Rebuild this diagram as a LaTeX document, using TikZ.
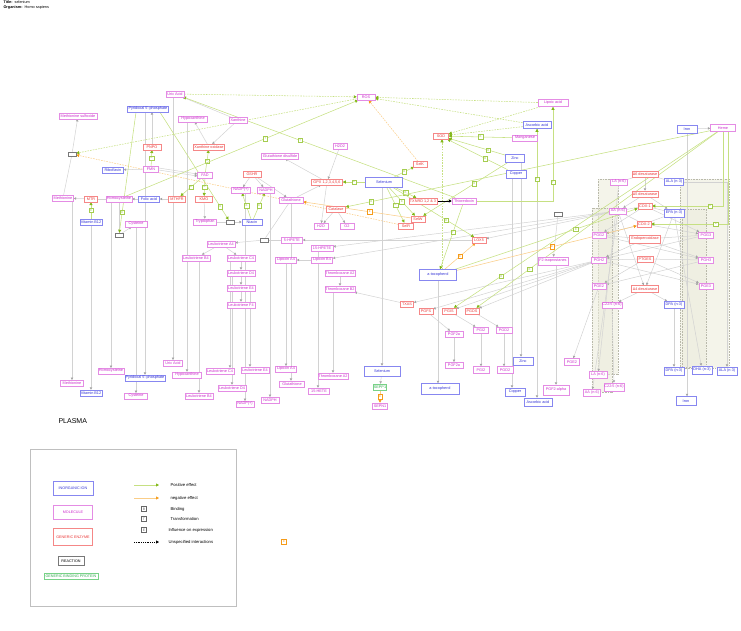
\documentclass[tikz,border=0pt]{standalone}
\usepackage{fontspec}
\setmainfont{Liberation Sans}
\usetikzlibrary{arrows.meta}

\definecolor{molline}{RGB}{228,140,228}
\definecolor{moltext}{RGB}{205,45,205}
\definecolor{ionline}{RGB}{135,135,240}
\definecolor{iontext}{RGB}{50,50,215}
\definecolor{enzline}{RGB}{245,135,135}
\definecolor{enztext}{RGB}{235,55,55}
\definecolor{rxnline}{RGB}{120,120,120}
\definecolor{gbpline}{RGB}{120,210,135}
\definecolor{gbptext}{RGB}{50,170,80}
\definecolor{cvline}{RGB}{210,210,210}
\definecolor{cvtip}{RGB}{165,165,165}
\definecolor{pline}{RGB}{198,224,130}
\definecolor{ptip}{RGB}{128,182,20}
\definecolor{pbox}{RGB}{165,205,80}
\definecolor{nline}{RGB}{250,205,135}
\definecolor{ntip}{RGB}{245,155,25}
\definecolor{grpfill}{RGB}{236,236,220}
\definecolor{grpline}{RGB}{185,185,170}

\pgfdeclarelayer{background}
\pgfsetlayers{background,main}

\begin{document}
\begin{tikzpicture}[x=1pt,y=-1pt,
    font=\fontsize{3.8}{4.4}\selectfont,
    box/.style={draw, fill=white, line width=0.5pt, inner sep=0.4pt, minimum height=5.5pt},
    mol/.style={box, draw=molline, text=moltext},
    ion/.style={box, draw=ionline, text=iontext},
    enz/.style={box, draw=enzline, text=enztext},
    gbp/.style={box, draw=gbpline, text=gbptext},
    rxn/.style={draw=rxnline, fill=white, line width=0.5pt, minimum width=8pt, minimum height=4pt, inner sep=0pt},
    mw/.style={minimum width=#1pt},
    mh/.style={minimum height=#1pt},
    link/.style={draw=cvline, line width=0.5pt},
    convert/.style={link, -{Triangle[length=2.4pt,width=2.4pt,color=cvtip]}},
    plusfx/.style={draw=pline, line width=0.55pt, -{Triangle[length=3pt,width=3pt,color=ptip]}},
    plusdash/.style={plusfx, dash pattern=on 1.6pt off 1.1pt},
    minusfx/.style={draw=nline, line width=0.55pt, -{Triangle[length=3pt,width=3pt,color=ntip]}},
    minusdash/.style={minusfx, dash pattern=on 1.6pt off 1.1pt},
    blackfx/.style={draw=black, line width=0.5pt, -{Triangle[length=3pt,width=3pt]}},
    fxbox/.style={draw=#1, text=#1, fill=white, solid, line width=0.4pt, inner sep=0pt,
                  minimum size=4.6pt, font=\fontsize{2.8}{3}\selectfont},
    group/.style={draw=grpline, fill=grpfill, fill opacity=0.6, dash pattern=on 1pt off 0.6pt, line width=0.5pt}]

\useasboundingbox (0,0) rectangle (741,630);

% title
\node[anchor=west] (ttl) at (0,2.6) {\textbf{Title:}\ \ selenium};
\node[anchor=west] (org) at (0,7.6) {\textbf{Organism:}\ \ Homo sapiens};

% ---- cell : molecules
\node[mol,mw=18] (uricA) at (175,94) {Uric Acid};
\node[mol,mw=38] (metsulf) at (78,116) {Methionine sulfoxide};
\node[mol,mw=29] (hypox) at (193,119) {Hypoxanthine};
\node[mol,mw=18] (xanth) at (238,120) {Xanthine};
\node[mol,mw=15] (fmn) at (151,169) {FMN};
\node[mol,mw=15] (fad) at (205,175) {FAD};
\node[mol,mw=21] (meth) at (63,198) {Methionine};
\node[mol,mw=26] (homocys) at (119,199) {Homocysteine};
\node[mol,mw=22] (cys) at (136,224) {Cysteine};
\node[mol,mw=23,mh=6] (trp) at (205,222) {Tryptophan};
\node[mol,mw=37] (gssg) at (280,156) {Glutathione disulfide};
\node[mol,mw=14] (h2o2) at (340,146) {H2O2};
\node[mol,mw=19] (nadp) at (241,190) {NADP(+)};
\node[mol,mw=17] (nadph) at (266,190) {NADPH};
\node[mol,mw=24] (gsh) at (291,200) {Glutathione};
\node[mol,mw=14] (h2o) at (321,226) {H2O};
\node[mol,mw=14] (o2) at (347,226) {O2};
\node[mol,mw=18,mh=6] (ros) at (366,97) {ROS};
\node[mol,mw=24,mh=6] (thiored) at (464,201) {Thioredoxin};
\node[mol,mw=30,mh=7] (lipoic) at (553,103) {Lipoic acid};
\node[mol,mw=25] (mangan) at (525,138) {Manganese};
\node[mol,mw=30,mh=8] (isopro) at (553,261) {F2-isoprostanes};
\node[mol,mw=28,mh=6] (lta4) at (221,244) {Leukotriene A4};
\node[mol,mw=28,mh=6] (ltb4) at (196,258) {Leukotriene B4};
\node[mol,mw=28,mh=6] (ltc4) at (241,258) {Leukotriene C4};
\node[mol,mw=28,mh=6] (ltd4) at (241,273) {Leukotriene D4};
\node[mol,mw=28,mh=6] (lte4) at (241,288) {Leukotriene E4};
\node[mol,mw=28,mh=6] (ltf4) at (241,305) {Leukotriene F4};
\node[mol,mw=21] (hpete5) at (292,240) {5-HPETE};
\node[mol,mw=22] (hpete15) at (322,248) {15-HPETE};
\node[mol,mw=21] (lxa4) at (286,260) {Lipoxin A4};
\node[mol,mw=21] (lxb4) at (322,260) {Lipoxin B4};
\node[mol,mw=30] (txa2) at (340,273) {Thromboxane A2};
\node[mol,mw=30,mh=6] (txb2) at (340,289) {Thromboxane B2};
\node[mol,mw=18,mh=6] (pgf2a) at (454,334) {PGF2a};
\node[mol,mw=15,mh=6] (pgi2) at (481,330) {PGI2};
\node[mol,mw=16,mh=6] (pgd2) at (504,330) {PGD2};
\node[mol,mw=17,mh=6] (la) at (619,182) {LA (n-6)};
\node[mol,mw=17,mh=6] (aa) at (618,211) {AA (n-6)};
\node[mol,mw=14,mh=6] (pgg2) at (599,235) {PGG2};
\node[mol,mw=15,mh=6] (pgg3) at (706,235) {PGG3};
\node[mol,mw=15,mh=6] (pgh2) at (599,260) {PGH2};
\node[mol,mw=15,mh=6] (pgh3) at (706,260) {PGH3};
\node[mol,mw=14,mh=6] (pge2) at (599,286) {PGE2};
\node[mol,mw=14,mh=6] (pge3) at (706,286) {PGE3};
\node[mol,mw=20,mh=6] (c225) at (612,305) {C22:5 (n-6)};
\node[mol,mw=25,mh=7] (heme) at (723,128) {Heme};

% ---- cell : inorganic ions
\node[ion,mw=41,mh=6] (plp) at (148,109) {Pyridoxal 5'-phosphate};
\node[ion,mw=21,mh=6] (ribo) at (113,170) {Riboflavin};
\node[ion,mw=21,mh=6] (folic) at (149,199) {Folic acid};
\node[ion,mw=22,mh=6] (b12) at (91,222) {Vitamin B12};
\node[ion,mw=20,mh=6] (niacin) at (252,222) {Niacin};
\node[ion,mw=37,mh=10] (selen) at (384,182) {Selenium};
\node[ion,mw=28,mh=7] (ascorb) at (537,125) {Ascorbic acid};
\node[ion,mw=19,mh=8] (zinc) at (515,158) {Zinc};
\node[ion,mw=20,mh=8] (copper) at (516,174) {Copper};
\node[ion,mw=37,mh=11] (atoc) at (438,275) {a-tocopherol};
\node[ion,mw=20,mh=8] (iron) at (687,129) {Iron};
\node[ion,mw=19,mh=7] (ala) at (674,182) {ALA (n-3)};
\node[ion,mw=20,mh=8] (epa) at (674,213) {EPA (n-3)};
\node[ion,mw=20,mh=7] (dpa) at (674,305) {DPA (n-3)};

% ---- cell : enzymes
\node[enz,mw=18] (pnpo) at (152,147) {PNPO};
\node[enz,mw=31] (xo) at (209,147) {Xanthine oxidase};
\node[enz,mw=13] (mtr) at (91,199) {MTR};
\node[enz,mw=17] (mthfr) at (177,199) {MTHFR};
\node[enz,mw=17] (kmo) at (204,199) {KMO};
\node[enz,mw=18] (gsr) at (252,174) {GSHR};
\node[enz,mw=31] (gpx) at (327,182) {GPX 1,2,3,4,5,6};
\node[enz,mw=19,mh=6] (catal) at (336,209) {Catalase};
\node[enz,mw=14] (selk) at (420,164) {SelK};
\node[enz,mw=28,mh=6] (txnrd) at (423,201) {TXNRD 1,2 \& 3};
\node[enz,mw=14,mh=6] (selw) at (418,219) {SelW};
\node[enz,mw=15,mh=6] (selr) at (406,226) {SelR};
\node[enz,mw=15,mh=6] (sod) at (441,136) {SOD};
\node[enz,mw=14] (lox5) at (479,240) {LOX5};
\node[enz,mw=13,mh=6] (txas) at (407,304) {TXAS};
\node[enz,mw=14,mh=6] (pgfs) at (426,311) {PGFS};
\node[enz,mw=14,mh=6] (pgis) at (449,311) {PGIS};
\node[enz,mw=14,mh=6] (pgds) at (472,311) {PGDS};
\node[enz,mw=26,mh=6] (d6des) at (645,174) {Δ6 desaturase};
\node[enz,mw=26,mh=6] (d5des) at (645,194) {Δ5 desaturase};
\node[enz,mw=14,mh=6] (cox1) at (645,206) {COX-1};
\node[enz,mw=14,mh=6] (cox2) at (644,224) {COX-2};
\node[enz,mw=31,mh=8] (endop) at (645,239) {Endoperoxidase};
\node[enz,mw=16,mh=6] (ptges) at (645,259) {PTGES};
\node[enz,mw=27,mh=7] (d4des) at (645,289) {Δ4 desaturase};

% ---- reactions
\node[rxn] (r1) at (72,154) {};
\node[rxn] (r2) at (119,235) {};
\node[rxn] (r3) at (230,222) {};
\node[rxn] (r4) at (264,240) {};
\node[rxn] (r5) at (558,214) {};

% ---- plasma
\node[anchor=west,font=\fontsize{7}{8}\selectfont] (plasma) at (55,421) {PLASMA};
\node[mol,mw=23] (methB) at (72,383) {Methionine};
\node[mol,mw=26] (homocysB) at (111,371) {Homocysteine};
\node[mol,mw=23] (cysB) at (136,396) {Cysteine};
\node[mol,mw=19] (uricB) at (173,363) {Uric Acid};
\node[mol,mw=29,mh=6] (hypoxB) at (187,375) {Hypoxanthine};
\node[mol,mw=28,mh=6] (ltb4B) at (199,396) {Leukotriene B4};
\node[mol,mw=28,mh=6] (ltc4B) at (220,371) {Leukotriene C4};
\node[mol,mw=28,mh=6] (ltd4B) at (232,388) {Leukotriene D4};
\node[mol,mw=28,mh=6] (lte4B) at (255,370) {Leukotriene E4};
\node[mol,mw=18] (nadpB) at (245,404) {NADP(+)};
\node[mol,mw=18] (nadphB) at (270,400) {NADPH};
\node[mol,mw=21] (lxa4B) at (286,369) {Lipoxin A4};
\node[mol,mw=25,mh=6] (gshB) at (292,384) {Glutathione};
\node[mol,mw=30,mh=6] (txa2B) at (333,376) {Thromboxane A2};
\node[mol,mw=21,mh=6] (hete15B) at (319,391) {15-HETE};
\node[mol,mw=18] (pgf2aB) at (454,365) {PGF2a};
\node[mol,mw=16,mh=7] (pgi2B) at (481,370) {PGI2};
\node[mol,mw=16,mh=7] (pgd2B) at (505,370) {PGD2};
\node[mol,mw=26,mh=10] (pgf2alpha) at (556,390) {PGF2-alpha};
\node[mol,mw=15,mh=7] (pge2B) at (572,362) {PGE2};
\node[mol,mw=18,mh=7] (laB) at (598,375) {LA (n-6)};
\node[mol,mw=17,mh=7] (aaB) at (592,393) {AA (n-6)};
\node[mol,mw=20,mh=8] (c225B) at (614,387) {C22:5 (n-6)};
\node[mol,mw=15,mh=6] (pb1) at (380,406) {SEPN1};
\node[gbp,mw=13,mh=6] (sepp1) at (380,387) {SEPP1};
\node[ion,mw=40,mh=6] (plpB) at (145,378) {Pyridoxal 5'-phosphate};
\node[ion,mw=22,mh=6] (b12B) at (91,393) {Vitamin B12};
\node[ion,mw=36,mh=10] (selenB) at (382,371) {Selenium};
\node[ion,mw=38,mh=11] (atocB) at (440,389) {a-tocopherol};
\node[ion,mw=20,mh=8] (zincB) at (523,361) {Zinc};
\node[ion,mw=20,mh=8] (copperB) at (515,392) {Copper};
\node[ion,mw=28,mh=8] (ascorbB) at (538,402) {Ascorbic acid};
\node[ion,mw=20,mh=8] (dpaB) at (674,371) {DPA (n-3)};
\node[ion,mw=20,mh=8] (dhaB) at (702,370) {DHA (n-3)};
\node[ion,mw=20,mh=8] (alaB) at (727,371) {ALA (n-3)};
\node[ion,mw=20,mh=9] (ironB) at (686,401) {Iron};

% drop points for the plasma lines
\coordinate (ltcdrop) at ([xshift=-11pt]ltc4.south);
\coordinate (ltedrop) at ([xshift=9pt]lte4.south);
\coordinate (hpdrop) at ([xshift=-4pt]hpete15.south);
\coordinate (zndrop) at ([xshift=6pt]zinc.south);
\coordinate (cudrop) at ([xshift=-4pt]copper.south);
\coordinate (atocup) at ([xshift=4pt]atoc.north);
\coordinate (hemedrop) at ([xshift=5pt]heme.south);

\begin{pgfonlayer}{background}
  % fatty acid groups
  \draw[group] (598,179) rectangle (618,374);
  \draw[group] (592,208) rectangle (612,392);
  \draw[group] (680,179) rectangle (729,368);
  \draw[group] (682,209) rectangle (706,367);

  % conversions
  \draw[link] (meth) -- (r1);
  \draw[convert] (r1) -- (metsulf);
  \draw[link] (homocys) -- (mtr);
  \draw[convert] (mtr) -- (meth);
  \draw[link] (homocys) -- (r2);
  \draw[convert] (r2) -- (cys);
  \draw[convert] (fmn) -- (ribo);
  \draw[convert] ([yshift=1pt]fmn.east) -- ([yshift=1pt]fad.west);
  \draw[convert] ([yshift=-1pt]fmn.east) -- ([yshift=-1pt]fad.west);
  \draw[convert] (pnpo) -- (pnpo |- plp.south);
  \draw[convert] (mthfr) -- (folic);
  \draw[convert] (folic) -- (homocys);
  \draw[convert] (xanth) -- (uricA);
  \draw[convert] (xanth) -- (xo);
  \draw[convert] (xo) -- (hypox);
  \draw[link] (trp) -- (r3);
  \draw[convert] (r3) -- (niacin);
  \draw[convert] (kmo) -- (trp);
  \draw[convert] (gsr) -- (nadp);
  \draw[convert] (gsr) -- (nadph);
  \draw[convert] (gsr) -- (gsh);
  \draw[convert] (gsh) -- (gpx);
  \draw[convert] (h2o2) -- (gpx);
  \draw[convert] (gpx) -- (gssg);
  \draw[convert] (gpx) -- (h2o);
  \draw[convert] (catal) -- (h2o);
  \draw[convert] (catal) -- (o2);
  \draw[link] (hpete5) -- (r4);
  \draw[link] (gsh) -- (r4);
  \draw[convert] (r4) -- (lta4);
  \draw[convert] (lta4) -- (ltb4);
  \draw[convert] (lta4) -- (ltc4);
  \draw[convert] (ltc4) -- (ltd4);
  \draw[convert] (ltd4) -- (lte4);
  \draw[convert] (lte4) -- (ltf4);
  \draw[convert] (lox5) -- (hpete5);
  \draw[convert] (aa) -- (lox5);
  \draw[convert] (aa) -- (hpete15);
  \draw[convert] (aa) -- (lxb4);
  \draw[convert] (lxb4) -- (lxa4);
  \draw[convert] (txa2) -- (txb2);
  \draw[convert] (txas) -- (txb2);
  \draw[convert] (pgh2) -- (txas);
  \draw[convert] (pgh2) -- (pgfs);
  \draw[convert] (pgh2) -- (pgis);
  \draw[convert] (pgh2) -- (pgds);
  \draw[convert] (pgfs) -- (pgf2a);
  \draw[convert] (pgis) -- (pgi2);
  \draw[convert] (pgds) -- (pgd2);
  \draw[convert] (r5) -- (isopro);
  \draw[convert] (iron) -- (heme);

  % fatty acids and prostanoids
  \draw[link] (la) -- (d6des);
  \draw[link] (ala) -- (d6des);
  \draw[convert] (d6des) -- (d5des);
  \draw[convert] (d5des) -- (aa);
  \draw[convert] (d5des) -- (epa);
  \draw[link] (aa) -- (cox1);
  \draw[link] (epa) -- (cox1);
  \draw[link] (aa) -- (cox2);
  \draw[link] (epa) -- (cox2);
  \draw[convert] (cox1) -- (pgg2);
  \draw[convert] (cox1) -- (pgg3);
  \draw[convert] (cox2) -- (pgg2);
  \draw[convert] (cox2) -- (pgg3);
  \draw[link] (pgg2) -- (endop);
  \draw[link] (pgg3) -- (endop);
  \draw[convert] (endop) -- (pgh2);
  \draw[convert] (endop) -- (pgh3);
  \draw[convert] (pgg2) -- (pgh3);
  \draw[convert] (pgg3) -- (pgh2);
  \draw[link] (pgh2) -- (ptges);
  \draw[link] (pgh3) -- (ptges);
  \draw[convert] (ptges) -- (pge2);
  \draw[convert] (ptges) -- (pge3);
  \draw[convert] (pgh2) -- (pge3);
  \draw[convert] (pgh3) -- (pge2);
  \draw[convert] (aa) -- (d4des);
  \draw[convert] (epa) -- (d4des);
  \draw[convert] (d4des) -- (c225);
  \draw[convert] (d4des) -- (dpa);

  % to plasma
  \draw[convert] (meth.south -| methB) -- (methB);
  \draw[convert] (b12) -- (b12 |- b12B.north);
  \draw[convert] (homocys.south -| homocysB) -- (homocysB);
  \draw[convert] (cys) -- (cys |- cysB.north);
  \draw[convert] (plp.south -| plpB) -- (plpB);
  \draw[convert] (uricA.south -| uricB) -- (uricB);
  \draw[convert] (hypox.south -| hypoxB) -- (hypoxB);
  \draw[convert] (ltb4.south -| ltb4B) -- (ltb4B);
  \draw[convert] (ltcdrop) -- (ltcdrop |- ltc4B.north);
  \draw[convert] (ltd4.south -| ltd4B) -- (ltd4B);
  \draw[convert] (ltedrop) -- (ltedrop |- lte4B.north);
  \draw[convert] (nadp.south -| nadpB) -- (nadpB);
  \draw[convert] (nadph.south -| nadphB) -- (nadphB);
  \draw[convert] (lxa4) -- (lxa4 |- lxa4B.north);
  \draw[convert] (gsh) -- (gsh |- gshB.north);
  \draw[convert] (txb2.south -| txa2B) -- (txa2B);
  \draw[convert] (hpdrop) -- (hpdrop |- hete15B.north);
  \draw[convert] (selen.south -| selenB) -- (selenB);
  \draw[convert] (selenB) -- (sepp1);
  \draw[convert] (atoc) -- (atoc |- atocB.north);
  \draw[convert] (pgf2a) -- (pgf2a |- pgf2aB.north);
  \draw[convert] (pgi2) -- (pgi2 |- pgi2B.north);
  \draw[convert] (pgd2) -- (pgd2 |- pgd2B.north);
  \draw[convert] (zndrop) -- (zndrop |- zincB.north);
  \draw[convert] (cudrop) -- (cudrop |- copperB.north);
  \draw[convert] (ascorb) -- (ascorb |- ascorbB.north);
  \draw[convert] (isopro.south -| pgf2alpha) -- (pgf2alpha);
  \draw[convert] (pge2) -- (pge2B);
  \draw[convert] (la) -- (laB);
  \draw[convert] (aa) -- (aaB);
  \draw[convert] (c225) -- (c225B);
  \draw[convert] (dpa) -- (dpaB);
  \draw[convert] (epa) -- (dhaB);
  \draw[convert] (ala.east) -| (alaB);
  \draw[convert] (iron) -- (iron |- ironB.north);

  % positive effects
  \draw[plusfx] (b12) -- node[fxbox=pbox]{B} (mtr);
  \draw[plusfx] (fmn) -- node[fxbox=pbox]{B} (pnpo);
  \draw[plusfx] (fad) -- node[fxbox=pbox]{B} (xo);
  \draw[plusfx] (fad) -- node[fxbox=pbox]{B} (mthfr);
  \draw[plusfx] (fad) -- node[fxbox=pbox]{B} (kmo);
  \draw[plusfx] ([xshift=-12pt]plp.south) -- node[fxbox=pbox,pos=0.83]{B} (r2);
  \draw[plusfx] ([xshift=12pt]plp.south) -- node[fxbox=pbox,pos=0.88]{B} (r3);
  \draw[plusfx] (niacin) -- node[fxbox=pbox]{B} (nadp);
  \draw[plusfx] (niacin) -- node[fxbox=pbox]{B} (nadph);
  \draw[plusfx] (homocys) -- node[fxbox=pbox,pos=0.6]{T} (ros);
  \draw[plusfx] (thiored) -- node[fxbox=pbox,pos=0.57]{T} (uricA);
  \draw[plusfx] (selen) -- node[fxbox=pbox]{B} (gpx);
  \draw[plusfx] (selen) -- node[fxbox=pbox]{B} (selk);
  \draw[plusfx] (selen) -- node[fxbox=pbox]{B} (txnrd);
  \draw[plusfx] (selen) -- node[fxbox=pbox]{B} (selr);
  \draw[plusfx] (selen) -- node[fxbox=pbox]{B} (selw);
  \draw[plusfx] (selen) -- node[fxbox=pbox,pos=0.66]{B} (lox5);
  \draw[plusfx] (heme) -- node[fxbox=pbox,pos=0.93]{B} (catal);
  \draw[plusfx] (mangan) -- node[fxbox=pbox]{B} (sod);
  \draw[plusfx] (zinc) -- node[fxbox=pbox,pos=0.3]{B} (sod);
  \draw[plusfx] (copper) -- node[fxbox=pbox,pos=0.37]{B} (sod);
  \draw[plusfx] (zinc) -- node[fxbox=pbox,pos=0.4]{B} (selw);
  \draw[plusfx] (thiored.east) -| node[fxbox=pbox,pos=0.65]{T} (ascorb.south);
  \draw[plusfx] (thiored.east) -| node[fxbox=pbox,pos=0.6]{T} (lipoic.south);
  \draw[plusfx] (thiored) -- node[fxbox=pbox,pos=0.43]{T} (atoc);
  \draw[plusfx] (heme.south) |- node[fxbox=pbox,pos=0.59]{B} (cox1.east);
  \draw[plusfx] (hemedrop) |- node[fxbox=pbox,pos=0.58]{B} (cox2.east);
  \draw[plusfx] (atoc) -- node[fxbox=pbox,pos=0.66]{B} (cox1);
  \draw[plusfx] (heme) -- node[fxbox=pbox,pos=0.82]{B} (pgis);
  \draw[plusfx] (heme) -- node[fxbox=pbox,pos=0.78]{B} (pgds);
  \draw[plusdash] (uricA) -- (ros);
  \draw[plusdash] (ros) -- (r1);
  \draw[plusdash] (lipoic) -- (ros);
  \draw[plusdash] (ascorb) -- (ros);
  \draw[plusdash] (lipoic) -- (sod);
  \draw[plusdash] (ascorb) -- (sod);
  \draw[plusdash] (atocup) -- (atocup |- sod.south);

  % negative effects
  \draw[minusdash] (selk) -- (ros);
  \draw[minusdash] (selr) -- (r1);
  \draw[minusfx] (selw) -- node[fxbox=ntip,pos=0.38]{E} (gsh);
  \draw[minusfx] (atoc) -- node[fxbox=ntip,pos=0.53]{E} (cox2);
  \draw[minusfx] (atoc) -- node[fxbox=ntip]{E} (lox5);
  \draw[minusfx] (sepp1) -- node[fxbox=ntip]{E} (pb1);

  % unspecified
  \draw[blackfx] (txnrd) -- (thiored);
\end{pgfonlayer}

% ---- legend
\draw[draw=black!25, line width=0.6pt] (30,449) rectangle (236,606);
\begin{scope}[font=\fontsize{4.2}{5}\selectfont]
  \node[ion,mw=40,mh=14,font=\fontsize{3.7}{4}\selectfont] (lgion) at (73,488) {INORGANIC ION};
  \node[mol,mw=39,mh=14,font=\fontsize{3.7}{4}\selectfont] (lgmol) at (73,512) {MOLECULE};
  \node[enz,mw=39,mh=17,font=\fontsize{3.7}{4}\selectfont] (lgenz) at (73,537) {GENERIC ENZYME};
  \node[box,draw=rxnline,mw=26,mh=9,font=\fontsize{3.7}{4}\selectfont] (lgrxn) at (71,561) {REACTION};
  \node[gbp,mw=54,mh=6,font=\fontsize{3.7}{4}\selectfont] (lggbp) at (71,576) {GENERIC BINDING PROTEIN};
  \coordinate (lgp1) at (134,485);
  \coordinate (lgp2) at (159,485);
  \coordinate (lgn1) at (134,498);
  \coordinate (lgn2) at (159,498);
  \coordinate (lgu1) at (134,542);
  \coordinate (lgu2) at (159,542);
  \draw[plusfx] (lgp1) -- (lgp2);
  \draw[minusfx] (lgn1) -- (lgn2);
  \draw[blackfx, dash pattern=on 1pt off 0.8pt] (lgu1) -- (lgu2);
  \node[anchor=west] (lgpt) at (167,485) {Positive effect};
  \node[anchor=west] (lgnt) at (167,498) {negative effect};
  \node[fxbox=black!60,minimum size=5pt,font=\fontsize{3.4}{4}\selectfont] (lgb) at (144,509) {B};
  \node[anchor=west] (lgbt) at (167,509) {Binding};
  \node[fxbox=black!60,minimum size=5pt,font=\fontsize{3.4}{4}\selectfont] (lgt) at (144,519) {T};
  \node[anchor=west] (lgtt) at (167,519) {Transformation};
  \node[fxbox=black!60,minimum size=5pt,font=\fontsize{3.4}{4}\selectfont] (lge) at (144,530) {E};
  \node[anchor=west] (lget) at (165,530) {Influence on expression};
  \node[anchor=west] (lgut) at (165,542) {Unspecified interactions};
  \node[fxbox=ntip,minimum size=5pt] (lgorph) at (284,542) {E};
\end{scope}

\end{tikzpicture}
\end{document}
